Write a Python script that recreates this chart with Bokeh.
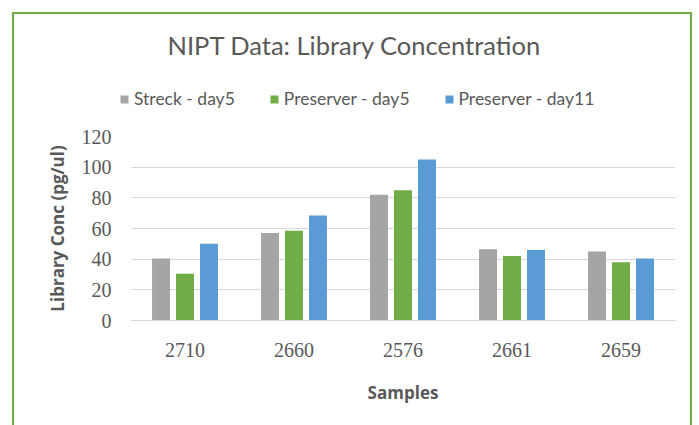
from bokeh.plotting import figure
from bokeh.models import ColumnDataSource, FactorRange, Legend, LegendItem, Label, Range1d
from bokeh.transform import dodge
from bokeh.embed import file_html
from bokeh.resources import INLINE

samples = ["2710", "2660", "2576", "2661", "2659"]
streck_day5 = [40.5, 57, 82, 46.5, 45]
preserver_day5 = [30.5, 58.5, 85, 42, 38]
preserver_day11 = [50, 68.5, 105, 46, 40.5]
series_names = ["Streck - day5", "Preserver - day5", "Preserver - day11"]
colors = ["#A5A5A5", "#70AD47", "#5B9BD5"]
chart_title = "NIPT Data: Library Concentration"

GREEN = "2px solid #70AD47"
TXT = "#595959"

src = ColumnDataSource(dict(sample=samples, idx=list(range(len(samples))),
                            s5=streck_day5, p5=preserver_day5, p11=preserver_day11))

# ---- header figure: title + legend ----
top = figure(width=680, height=110, x_range=Range1d(0, 680), y_range=Range1d(0, 110),
             output_backend="svg", toolbar_location=None,
             min_border_left=0, min_border_right=0, min_border_top=0, min_border_bottom=0)
top.axis.visible = False
top.grid.visible = False
top.outline_line_color = None
top.styles = {"border-top": GREEN, "border-left": GREEN, "border-right": GREEN}
top.margin = (12, 0, 0, 12)

top.add_layout(Label(x=340, y=80, text=chart_title, text_align="center", text_baseline="alphabetic",
                     text_font="Lato", text_font_size="25.5px", text_color=TXT))

# zero-height proxies (bottom == top) that only provide legend swatches
proxies = [top.vbar(x="idx", bottom=k, top=k, width=0.1, source=src, fill_color=c, line_color=None)
           for k, c in zip(["s5", "p5", "p11"], colors)]
legend = Legend(items=[LegendItem(label=n, renderers=[r]) for n, r in zip(series_names, proxies)],
                orientation="horizontal", location=(105, 15), border_line_color=None,
                background_fill_alpha=0,
                label_text_font="Lato", label_text_font_size="17.5px", label_text_color=TXT,
                glyph_width=10, glyph_height=10, label_height=20, spacing=34, label_standoff=5,
                margin=0, padding=0)
top.add_layout(legend, "center")

# ---- chart figure ----
p = figure(width=680, height=303, x_range=FactorRange(*samples), y_range=(0, 120),
           output_backend="svg", toolbar_location=None,
           min_border_left=116, min_border_right=19, min_border_bottom=105, min_border_top=14)
p.styles = {"border-left": GREEN, "border-right": GREEN}
p.margin = (0, 0, 0, 12)

for key, off, col in zip(["s5", "p5", "p11"], [-0.22, 0.0, 0.22], colors):
    p.vbar(x=dodge("sample", off, range=p.x_range), top=key, width=0.165, source=src,
           fill_color=col, line_color=None)

p.xgrid.grid_line_color = None
p.ygrid.grid_line_color = "#D9D9D9"
p.ygrid.grid_line_width = 1
p.outline_line_color = None

p.yaxis.ticker = [0, 20, 40, 60, 80, 100, 120]
p.yaxis.axis_line_color = None
p.yaxis.major_tick_line_color = None
p.yaxis.minor_tick_line_color = None
p.yaxis.major_label_text_font = "Liberation Serif"
p.yaxis.major_label_text_font_size = "20px"
p.yaxis.major_label_text_color = TXT
p.yaxis.major_label_standoff = 13
p.yaxis.axis_label = "Library Conc (pg/ul)"
p.yaxis.axis_label_text_font = "Open Sans"
p.yaxis.axis_label_text_font_style = "bold"
p.yaxis.axis_label_text_font_size = "17px"
p.yaxis.axis_label_text_color = TXT
p.yaxis.axis_label_standoff = 10

p.xaxis.axis_line_color = "#D9D9D9"
p.xaxis.major_tick_line_color = None
p.xaxis.minor_tick_line_color = None
p.xaxis.major_label_text_font = "Liberation Serif"
p.xaxis.major_label_text_font_size = "20px"
p.xaxis.major_label_text_color = TXT
p.xaxis.major_label_standoff = 16
p.xaxis.axis_label = "Samples"
p.xaxis.axis_label_text_font = "Open Sans"
p.xaxis.axis_label_text_font_style = "bold"
p.xaxis.axis_label_text_font_size = "17px"
p.xaxis.axis_label_text_color = TXT
p.xaxis.axis_label_standoff = 21

open("out.html", "w").write(file_html([top, p], INLINE))
